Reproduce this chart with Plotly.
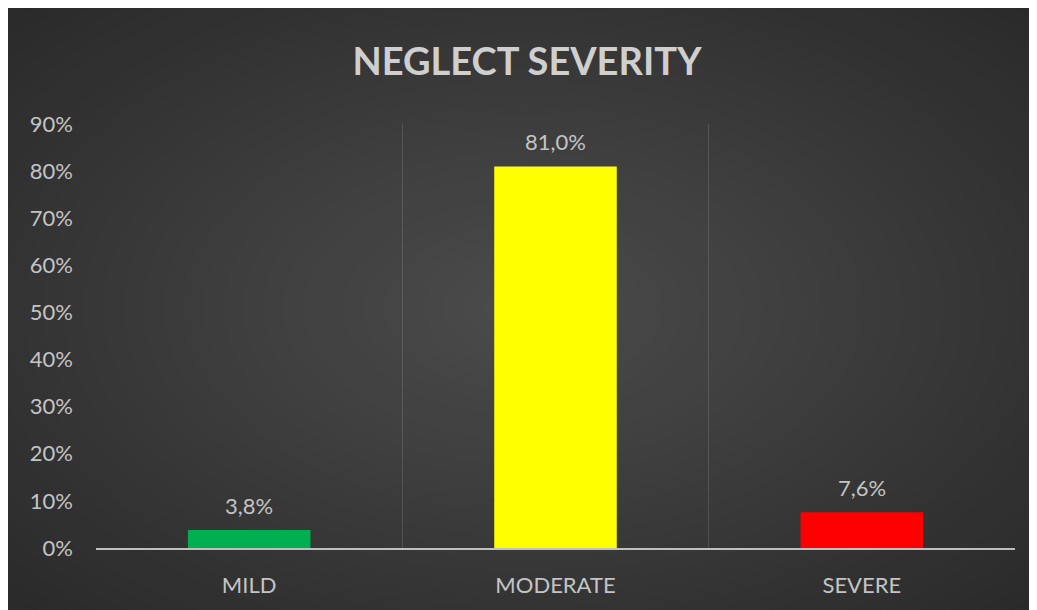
import plotly.graph_objects as go

categories = ["MILD", "MODERATE", "SEVERE"]
values = [0.038, 0.810, 0.076]
bar_colors = ["#00B050", "#FFFF00", "#FF0000"]
y_ticks = [0, 0.1, 0.2, 0.3, 0.4, 0.5, 0.6, 0.7, 0.8, 0.9]

W, H = 1045, 602
ML, MR, MT, MB = 88, 38, 116, 62
PW, PH = W - ML - MR, H - MT - MB

FONT = "Lato"
TXT = "#c4c4c4"

fig = go.Figure(go.Bar(
    x=categories, y=values,
    marker=dict(color=bar_colors, line=dict(width=0)),
    width=0.4, hoverinfo="skip",
))

# value labels above the bars
for c, v in zip(categories, values):
    fig.add_annotation(
        x=c, y=v, xref="x", yref="y",
        text=("%.1f%%" % (v * 100)).replace(".", ","),
        showarrow=False, yanchor="bottom", yshift=9,
        font=dict(family=FONT, size=22, color=TXT),
    )

# radial-gradient background using concentric ellipses (pixel -> paper coords)
def px2paper_x(px):
    return (px - ML) / PW

def px2paper_y(py):
    return 1 - (py - MT) / PH

cx, cy = 515, 300
edge = (0x26, 0x26, 0x26)
center = (0x4c, 0x4c, 0x4c)
N = 40
rx_max, ry_max = 800, 480
shapes = []
for i in range(N):
    t = 1 - i / N
    rx, ry = rx_max * t, ry_max * t
    c = tuple(int(round(center[k] + (edge[k] - center[k]) * t)) for k in range(3))
    shapes.append(dict(
        type="circle", xref="paper", yref="paper", layer="below",
        x0=px2paper_x(cx - rx), x1=px2paper_x(cx + rx),
        y0=px2paper_y(cy + ry), y1=px2paper_y(cy - ry),
        fillcolor="rgb(%d,%d,%d)" % c, line=dict(width=0),
    ))

fig.update_layout(
    width=W, height=H,
    margin=dict(l=ML, r=MR, t=MT, b=MB),
    paper_bgcolor="rgb(38,38,38)",
    plot_bgcolor="rgba(0,0,0,0)",
    separators=",.",
    shapes=shapes,
    showlegend=False,
    title=dict(
        text="<b>NEGLECT SEVERITY</b>",
        x=519 / W, xref="container", xanchor="center",
        y=1 - 54 / H, yref="container", yanchor="middle",
        font=dict(family=FONT, size=38, color="#cfcfcf"),
    ),
    xaxis=dict(
        range=[-0.5, 2.5],
        tickson="boundaries", showgrid=True,
        gridcolor="rgba(255,255,255,0.13)", gridwidth=1,
        showline=True, linecolor="#bfbfbf", linewidth=2,
        ticks="", ticklabelstandoff=17,
        tickfont=dict(family=FONT, size=22, color=TXT),
        fixedrange=True,
    ),
    yaxis=dict(
        range=[0, 0.9], tickvals=y_ticks, tickformat=".0%",
        showgrid=False, zeroline=False, showline=False,
        ticks="", ticklabelstandoff=22,
        tickfont=dict(family=FONT, size=22, color=TXT),
        fixedrange=True,
    ),
)

fig.write_html("out.html")
